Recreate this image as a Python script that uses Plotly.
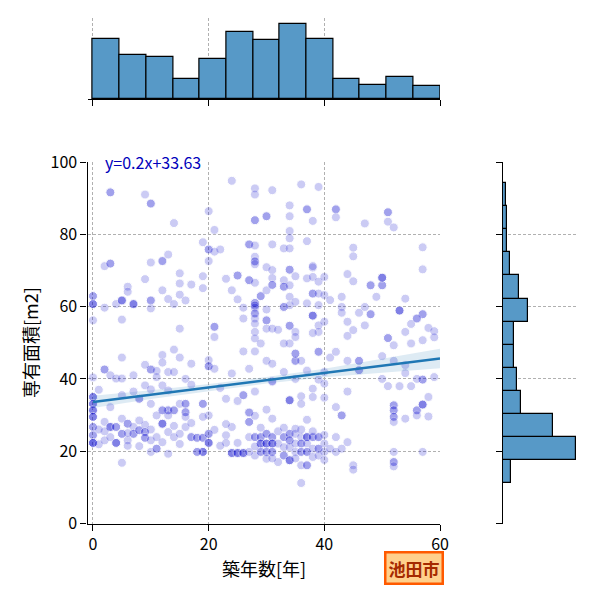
import plotly.graph_objects as go

# scatter points (築年数, 専有面積), grouped by height band
pts_top = [(24,94.8),(3,91.6),(3,91.6),(9,91.0),(10,88.5),(10,88.5),(28,92.7),(28,91.0),(31,92.2),
           (36,93.8),(39,93.1),(20,86.4),(30,85.0),(30,85.0),(28,83.9),(28,83.9),(34,88.0),(34,85.0),
           (34,80.9),(34,78.9),(37,86.9),(37,86.9),(38,83.7),(42,86.9),(42,86.9),(42,84.7),(47,83.0),
           (51,86.1),(51,86.1),(51,83.5),(52,81.9),(14,83.1),(21,81.2),(19,77.8),(20,75.8),(20,75.8),
           (21,75.2),(22,75.8),(20,72.6),(13,74.4),(12,72.6),(12,72.6),(10,72.2),(2,71.2),(3,71.9),
           (3,71.9),(27,77.2),(27,77.2),(28,76.9),(31,77.2),(33,76.1),(34,76.1),(37,78.1),(45,76.3),
           (45,73.9),(57,76.4),(57,70.3),(28,73.8),(28,72.5),(28,72.5),(28,71.7),(30,70.9),(31,70.1),
           (34,70.2),(34,70.2),(38,70.8),(38,71.2)]

pts_upper = [(9,67.6),(15,69.2),(15,66.4),(17,66.1),(19,68.4),(19,65.1),(6,65.5),(6,64.1),(0,62.9),
             (0,62.9),(0,60.7),(0,60.7),(0,60.7),(0,56.2),(2,59.7),(4,60.7),(5,61.7),(5,61.7),(5,61.7),
             (7,60.7),(7,60.7),(7,60.7),(10,61.7),(10,61.7),(10,59.5),(12,64.5),(13,62.1),(15,63.3),
             (15,53.9),(14,60.7),(16,61.7),(5,56.4),(21,54.4),(21,54.4),(21,51.6),(23,67.7),(25,68.6),
             (25,68.6),(27,67.3),(27,67.3),(28,66.6),(29,62.9),(29,62.9),(30,64.5),(31,67.9),(31,66.0),
             (31,66.0),(33,67.3),(33,65.5),(33,65.5),(34,65.9),(34,62.7),(35,68.4),(33,59.9),(33,59.9),
             (34,60.4),(35,61.3),(24,64.5),(25,62.0),(26,59.7),(26,56.7),(28,61.0),(28,61.0),(28,60.3),
             (28,60.3),(28,59.7),(28,58.1),(28,58.1),(28,56.7),(28,55.3),(28,53.0),(28,51.2),(29,49.8),
             (30,59.2),(30,56.2),(30,56.2),(30,53.9),(31,53.9),(32,53.6),(34,54.7),(34,54.7),(35,53.0),
             (35,51.6),(34,49.8),(33,49.8),(37,67.8),(38,68.2),(39,66.9),(38,63.6),(38,63.6),(39,63.6),
             (40,68.2),(40,63.2),(37,60.9),(39,60.4),(38,57.5),(38,57.5),(38,57.5),(39,54.8),(39,53.0),
             (40,55.8),(38,52.7),(41,61.8),(43,62.7),(44,69.0),(45,67.0),(43,59.9),(43,58.3),(44,55.8),
             (45,53.5),(44,51.9),(46,58.3),(47,59.9),(48,57.9),(48,57.9),(49,62.7),(48,65.9),(48,65.9),
             (50,65.9),(50,65.9),(50,68.0),(50,68.0),(50,68.0),(47,54.8),(53,58.9),(53,58.9),(53,58.9),
             (54,62.2),(55,55.2),(54,53.0),(57,57.9),(57,57.9),(58,54.1),(59,53.2),(51,51.3),(51,51.3),
             (52,49.3),(55,49.8),(57,50.7),(59,51.5),(56,56.7),(56,56.7)]

pts_mid = [(5,45.9),(2,42.6),(2,42.6),(3,41.0),(4,40.1),(5,40.1),(7,41.0),(10,42.6),(10,42.6),(11,42.2),
           (12,46.6),(13,41.9),(14,41.9),(14,48.1),(15,45.9),(17,44.2),(0,40.4),(20,45.2),(20,43.5),
           (20,43.5),(21,42.8),(26,47.6),(28,47.6),(30,45.0),(31,44.2),(27,42.8),(33,41.9),(35,45.0),
           (35,45.0),(35,47.0),(35,47.0),(36,45.0),(39,47.5),(39,47.5),(41,45.9),(42,47.5),(44,45.0),
           (46,45.0),(46,45.0),(46,42.4),(46,42.4),(50,46.3),(52,45.0),(54,43.8),(50,40.0),(59,40.5),
           (57,39.8),(57,39.8),(39,39.8),(40,41.9),(54,41.6),(56,40.0),(11,40.5),(9,43.9),(16,40.0),
           (12,44.5),(24,41.5),(31,39.2),(37,42.3),(35,40.0)]

pts_lower = [(0,35.0),(0,35.0),(0,35.0),(0,33.1),(0,33.1),(0,33.1),(0,31.3),(0,31.3),(0,31.3),(0,29.5),
             (0,29.5),(0,29.5),(0,26.7),(0,26.7),(1,37.0),(3,32.2),(8,34.5),(8,34.5),(9,38.2),(10,37.1),
             (10,33.1),(12,38.2),(13,31.3),(13,31.3),(12,31.3),(12,31.3),(11,29.9),(14,31.3),(14,31.3),
             (15,33.1),(16,33.1),(16,33.1),(16,30.8),(16,30.8),(16,29.5),(19,33.1),(19,33.1),(20,29.9),
             (19,29.5),(25,33.9),(26,35.5),(26,35.5),(27,30.7),(27,30.7),(28,29.8),(34,34.1),(34,34.1),
             (34,34.1),(36,35.2),(36,33.1),(38,37.3),(38,35.0),(40,34.8),(40,38.7),(31,29.0),(31,39.4),
             (37,28.7),(42,32.2),(43,29.9),(43,29.9),(52,32.7),(52,32.7),(52,31.3),(52,31.3),(52,29.5),
             (52,29.5),(52,28.1),(54,29.0),(56,31.3),(56,31.3),(56,29.9),(57,32.9),(57,32.9),(57,32.9),
             (58,29.6),(58,35.0),(51,38.0),(53,38.0),(55,38.0),(7,36.5),(5,35.5),(13,36.8),(17,38.4),
             (22,37.5),(23,34.5),(28,36.5),(30,31.5),(44,36.5)]

pts_bottom_left = [(0,24.4),(0,24.4),(0,22.3),(0,22.3),(0,22.3),(0,22.3),(1,21.9),(2,23.0),(2,28.1),(3,26.7),
                   (3,26.7),(3,26.7),(4,26.7),(4,26.7),(4,22.3),(4,22.3),(4,22.3),(3,23.9),(5,29.0),(5,24.8),
                   (5,24.8),(6,27.6),(6,27.6),(6,23.0),(7,26.7),(7,24.8),(7,24.8),(8,25.8),(8,25.8),(8,21.4),
                   (9,27.3),(9,25.3),(9,25.3),(9,23.7),(9,23.7),(10,23.0),(10,19.8),(11,20.7),(11,20.7),
                   (11,23.9),(12,27.6),(12,27.6),(12,27.6),(13,29.9),(13,25.3),(14,23.9),(15,24.8),(16,26.7),
                   (17,23.9),(17,23.9),(18,23.7),(18,23.7),(19,23.7),(19,23.7),(19,19.8),(19,19.8),(19,19.8),
                   (18,19.8),(18,19.8),(20,22.3),(20,22.3),(20,22.3),(20,24.8),(20,24.8),(21,25.9),(5,16.8),
                   (13,19.3),(24,19.5),(24,19.5),(24,19.5),(25,19.5),(25,19.5),(25,19.5),(26,19.5),(26,19.5),
                   (26,19.5),(23,24.4),(23,22.3),(24,26.7),(25,22.3),(27,28.1),(27,28.1),(27,23.9),(2,25.5),
                   (6,25.0),(8,28.5),(10,26.0),(14,27.0),(15,22.0),(17,27.8),(22,21.5),(23,27.5),(6,21.5),
                   (1,26.0),(12,22.5)]

pts_bottom_right = [(28,23.9),(28,23.9),(28,18.8),(29,23.9),(29,23.9),(29,22.1),(29,22.1),(29,22.1),(29,19.8),
                    (29,19.8),(30,24.8),(30,24.8),(30,22.1),(30,22.1),(30,22.1),(30,19.8),(30,19.8),(30,17.9),
                    (31,23.9),(31,23.9),(31,22.1),(31,22.1),(31,22.1),(31,19.8),(31,19.8),(32,22.1),(32,17.0),
                    (33,23.9),(33,23.9),(33,21.1),(33,18.8),(33,18.8),(34,24.8),(34,24.8),(34,23.0),(34,23.0),
                    (34,21.1),(34,17.5),(34,17.5),(34,17.5),(35,24.8),(35,22.1),(35,19.8),(36,23.9),(36,22.1),
                    (36,22.1),(36,19.8),(36,19.8),(36,16.1),(37,23.9),(37,23.9),(37,23.9),(37,22.1),(37,19.8),
                    (37,19.8),(37,16.1),(37,16.1),(38,23.9),(38,23.9),(38,20.7),(38,18.4),(39,23.9),(39,23.9),
                    (39,20.7),(39,20.7),(39,18.8),(40,22.1),(40,19.8),(40,17.6),(41,20.7),(42,23.9),(42,19.8),
                    (43,20.7),(44,22.5),(45,16.1),(45,14.9),(36,11.2),(52,19.8),(52,17.0),(52,17.0),(52,15.8),
                    (57,19.8),(27,19.8),(28,21.3),(32,25.5),(35,26.2),(29,26.5),(38,25.5),(36,26.0),(33,26.5),
                    (40,24.5),(31,18.0),(35,18.0)]

# marginal histograms (counts)
age_bin_counts = [67, 49, 47, 22, 44, 75, 66, 83, 67, 22, 16, 25, 15]
age_bin_start = 0.0
age_bin_size = 60 / 13
area_bin_counts = [19, 179, 122, 44, 34, 28, 28, 61, 39, 17, 11, 10, 8]
area_bin_start = 11.1
area_bin_size = 6.39

# regression y=0.2x+33.63 and its confidence band
fit_slope = 0.2
fit_intercept = 33.63
ci_x = [0, 10, 20, 30, 40, 50, 60]
ci_half = [1.7, 1.2, 0.95, 0.9, 1.2, 1.9, 2.7]

pts = pts_top + pts_upper + pts_mid + pts_lower + pts_bottom_left + pts_bottom_right
age = [p[0] for p in pts]
area = [p[1] for p in pts]

fit_y = [fit_intercept + fit_slope * x for x in ci_x]
ci_lo = [y - h for y, h in zip(fit_y, ci_half)]
ci_hi = [y + h for y, h in zip(fit_y, ci_half)]

age_centers = [age_bin_start + age_bin_size * (i + 0.5) for i in range(len(age_bin_counts))]
area_centers = [area_bin_start + area_bin_size * (i + 0.5) for i in range(len(area_bin_counts))]

FONT = "Noto Sans CJK JP"
BAR = "#5799c7"
GRID = "#b0b0b0"
OFF = 8  # the page puts the plot 8px in from the corner


def px_x(p):
    return (p - OFF) / 600


def px_y(p):
    return 1 - (p - OFF) / 600


fig = go.Figure()

fig.add_trace(go.Scatter(x=age, y=area, mode="markers",
                         marker=dict(size=9, color="mediumblue", opacity=0.2,
                                     line=dict(color="white", width=1)),
                         xaxis="x", yaxis="y", hoverinfo="skip"))
fig.add_trace(go.Scatter(x=ci_x + ci_x[::-1], y=ci_hi + ci_lo[::-1], fill="toself",
                         fillcolor="rgba(31,119,180,0.15)", line=dict(width=0),
                         mode="lines", xaxis="x", yaxis="y", hoverinfo="skip"))
fig.add_trace(go.Scatter(x=ci_x, y=fit_y, mode="lines",
                         line=dict(color="#1f77b4", width=2.5), xaxis="x", yaxis="y"))

fig.add_trace(go.Bar(x=age_centers, y=age_bin_counts, width=age_bin_size,
                     marker=dict(color=BAR, line=dict(color="black", width=1.2)),
                     xaxis="x2", yaxis="y2"))
fig.add_trace(go.Bar(y=area_centers, x=area_bin_counts, width=area_bin_size, orientation="h",
                     marker=dict(color=BAR, line=dict(color="black", width=1.2)),
                     xaxis="x3", yaxis="y3"))

main_x = [px_x(87.5), px_x(440)]
main_y = [px_y(523.5), px_y(162)]

common = dict(showline=True, linecolor="black", linewidth=1.3, ticks="outside", ticklen=6,
              tickcolor="black", tickwidth=1.2, zeroline=False, automargin=False,
              gridcolor=GRID, griddash="3px,2px", gridwidth=0.8,
              tickfont=dict(family=FONT, size=16, color="black"))
hidden = dict(showgrid=False, showline=False, showticklabels=False, ticks="", zeroline=False,
              automargin=False)

fig.update_layout(
    width=600, height=600, margin=dict(l=0, r=0, t=0, b=0, autoexpand=False),
    paper_bgcolor="white", plot_bgcolor="white", showlegend=False, bargap=0,
    font=dict(family=FONT, color="black"),
    xaxis=dict(domain=main_x, range=[-0.95, 60], tickvals=[0, 20, 40, 60], anchor="y",
               showgrid=True, **common),
    yaxis=dict(domain=main_y, range=[0, 100], tickvals=[0, 20, 40, 60, 80, 100], anchor="x",
               showgrid=True, **common),
    xaxis2=dict(domain=main_x, range=[-0.95, 60], tickvals=[0, 20, 40, 60], anchor="y2",
                showgrid=True, showticklabels=False, **common),
    yaxis2=dict(domain=[px_y(99), px_y(18)], range=[0, 90], anchor="x2", **hidden),
    xaxis3=dict(domain=[px_x(503), px_x(578)], range=[0, 184], anchor="y3", **hidden),
    yaxis3=dict(domain=main_y, range=[0, 100], tickvals=[0, 20, 40, 60, 80, 100], anchor="x3",
                showgrid=True, showticklabels=False, **common),
)

fig.add_annotation(x=1.8, y=100, xref="x", yref="y", text="y=0.2x+33.63", showarrow=False,
                   xanchor="left", yanchor="middle",
                   font=dict(family=FONT, size=16, color="#0000bb"))
fig.add_annotation(x=px_x(264), y=px_y(568), xref="paper", yref="paper", text="築年数[年]",
                   showarrow=False, xanchor="center", yanchor="middle",
                   font=dict(family=FONT, size=18, color="black"))
fig.add_annotation(x=px_x(30), y=px_y(343), xref="paper", yref="paper", text="専有面積[m2]",
                   showarrow=False, textangle=-90, xanchor="center", yanchor="middle",
                   font=dict(family=FONT, size=18, color="black"))
fig.add_annotation(x=px_x(414), y=px_y(568), xref="paper", yref="paper", text="<b>池田市</b>",
                   showarrow=False, xanchor="center", yanchor="middle",
                   bgcolor="#ffd08c", bordercolor="#ff5a00", borderwidth=2.5,
                   borderpad=2, font=dict(family=FONT, size=17, color="#a52a00"))

fig.write_html("out.html")
